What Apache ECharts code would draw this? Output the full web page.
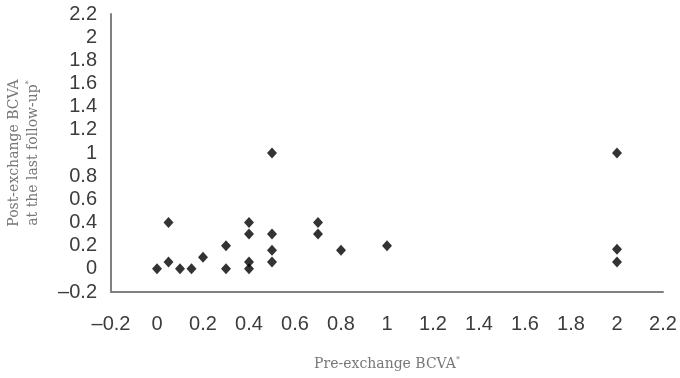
<!DOCTYPE html>
<html>
<head>
<meta charset="utf-8">
<script src="https://cdn.jsdelivr.net/npm/echarts@6/dist/echarts.min.js"></script>
<style>
  html, body { margin: 0; padding: 0; background: #fff; }
  #chart { width: 680px; height: 378px; }
</style>
</head>
<body>
<div id="chart"></div>
<script>
// pre-exchange vs post-exchange BCVA
var preBcva  = [0,    0.05, 0.05, 0.1,  0.15, 0.2,  0.3, 0.3, 0.4, 0.4, 0.4,  0.4, 0.5,  0.5, 0.5, 0.5,  0.7, 0.7, 0.8,  1.0, 2.0, 2.0,  2.0];
var postBcva = [0,    0.4,  0.06, 0,    0,    0.1,  0.2, 0,   0.4, 0.3, 0.06, 0,   1.0,  0.3, 0.16, 0.06, 0.4, 0.3, 0.16, 0.2, 1.0, 0.17, 0.06];
var xTitle = 'Pre-exchange BCVA';
var yTitle1 = 'Post-exchange BCVA';
var yTitle2 = 'at the last follow-up';

var chart = echarts.init(document.getElementById('chart'));

function fmtTick(v) {
    var s = String(Math.round(v * 10) / 10);
    return s.replace('-', '\u2013');
}

var tickFont = {
    fontFamily: 'Liberation Sans',
    fontSize: 20,
    color: '#3c3c3c',
    formatter: fmtTick
};
var nameFont = {
    fontFamily: 'DejaVu Serif',
    fontSize: 14,
    color: '#777',
    rich: {
        sup: { fontFamily: 'DejaVu Serif', fontSize: 8, color: '#777', padding: [0, 0, 9, 0] }
    }
};

chart.setOption({
    animation: false,
    grid: { left: 111, right: 17, top: 14, bottom: 86, outerBoundsMode: 'none' },
    xAxis: {
        type: 'value',
        min: -0.2,
        max: 2.2,
        interval: 0.2,
        name: xTitle + '{sup|*}',
        nameLocation: 'middle',
        nameGap: 64,
        nameTextStyle: nameFont,
        axisLine: { onZero: false, lineStyle: { color: '#808080', width: 2 } },
        axisTick: { show: false },
        splitLine: { show: false },
        axisLabel: Object.assign({ margin: 22, showMinLabel: true, showMaxLabel: true }, tickFont)
    },
    yAxis: {
        type: 'value',
        min: -0.2,
        max: 2.2,
        interval: 0.2,
        name: yTitle1 + '\n' + yTitle2 + '{sup|*}',
        nameLocation: 'middle',
        nameRotate: 90,
        nameGap: 68,
        nameTextStyle: Object.assign({ lineHeight: 19 }, nameFont),
        axisLine: { show: true, onZero: false, lineStyle: { color: '#808080', width: 2 } },
        axisTick: { show: false },
        splitLine: { show: false },
        axisLabel: Object.assign({ margin: 14, showMinLabel: true, showMaxLabel: true }, tickFont)
    },
    series: [{
        type: 'scatter',
        symbol: 'diamond',
        symbolSize: [10, 11],
        itemStyle: { color: '#000' },
        data: preBcva.map(function (x, i) { return [x, postBcva[i]]; })
    }]
});
</script>
</body>
</html>
